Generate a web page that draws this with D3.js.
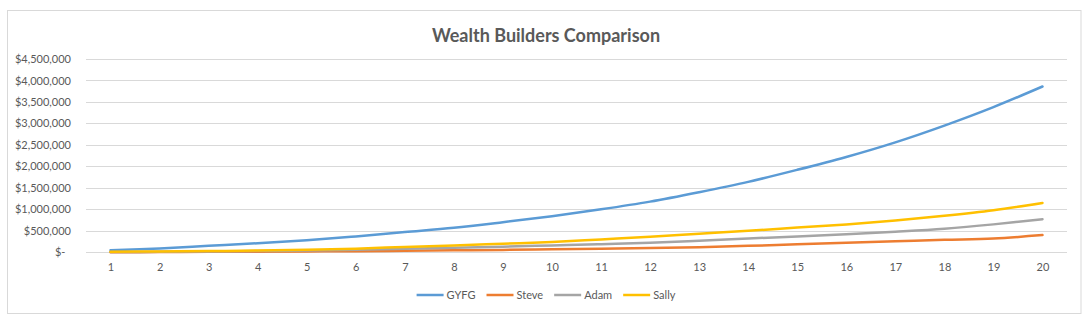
<!DOCTYPE html>
<html>
<head>
<meta charset="utf-8">
<script src="https://cdn.jsdelivr.net/npm/d3@7"></script>
<style>
  body { margin: 0; background: #fff; }
  svg { display: block; font-family: Lato, "Open Sans", sans-serif; }
</style>
</head>
<body>
<svg></svg>
<script>
// Dados do gráfico
const years = d3.range(1, 21);
const seriesNames = ["GYFG", "Steve", "Adam", "Sally"];
const seriesColors = ["#5B9BD5", "#ED7D31", "#A5A5A5", "#FFC000"];

const gyfg = [50000, 90000, 150000, 210000, 280000, 370000, 470000, 570000, 700000, 840000,
              1000000, 1180000, 1400000, 1640000, 1920000, 2220000, 2560000, 2950000, 3380000, 3860000];
const steve = [0, 5000, 10000, 15000, 20000, 25000, 35000, 45000, 55000, 70000,
               85000, 100000, 120000, 150000, 185000, 220000, 255000, 290000, 320000, 400000];
const adam = [5000, 10000, 20000, 30000, 40000, 60000, 85000, 105000, 130000, 160000,
              190000, 225000, 270000, 320000, 370000, 420000, 480000, 550000, 650000, 770000];
const sally = [10000, 20000, 30000, 40000, 60000, 85000, 125000, 160000, 200000, 240000,
               300000, 360000, 430000, 500000, 575000, 650000, 740000, 850000, 980000, 1150000];

const yTicks = d3.range(0, 4500001, 500000);

const width = 1092, height = 324;
const svg = d3.select("svg").attr("width", width).attr("height", height);

// Moldura do gráfico
svg.append("rect")
  .attr("x", 7.5).attr("y", 10.5)
  .attr("width", 1073.5).attr("height", 303)
  .attr("fill", "#fff")
  .attr("stroke", "#D9D9D9");

// Título
svg.append("text")
  .attr("x", 546).attr("y", 42)
  .attr("text-anchor", "middle")
  .attr("font-size", "18px")
  .attr("font-weight", "bold")
  .attr("fill", "#595959")
  .text("Wealth Builders Comparison");

// Escalas
const x = d3.scalePoint().domain(years).range([86, 1067]).padding(0.5);
const y = d3.scaleLinear().domain([0, 4500000]).range([252.3, 59]);

// Linhas de grade
svg.append("g")
  .selectAll("line")
  .data(yTicks)
  .join("line")
  .attr("x1", 86).attr("x2", 1067)
  .attr("y1", d => Math.round(y(d)) + 0.5)
  .attr("y2", d => Math.round(y(d)) + 0.5)
  .attr("stroke", "#D9D9D9");

// Eixo Y
const money = d3.format("$,");
const yAxis = svg.append("g")
  .attr("transform", "translate(74,0)")
  .call(d3.axisLeft(y).tickValues(yTicks).tickSize(0)
    .tickFormat(d => d === 0 ? "$-\u00A0\u00A0" : money(d)));
yAxis.select(".domain").remove();
yAxis.selectAll("text").attr("font-size", "11px").attr("fill", "#595959").attr("font-family", "Lato, sans-serif");

// Eixo X
const xAxis = svg.append("g")
  .attr("transform", "translate(0,260)")
  .call(d3.axisBottom(x).tickSize(0));
xAxis.select(".domain").remove();
xAxis.selectAll("text").attr("font-size", "11px").attr("fill", "#595959").attr("font-family", "Lato, sans-serif");

// Séries
const seriesData = [gyfg, steve, adam, sally];
const line = d3.line()
  .x((d, i) => x(years[i]))
  .y(d => y(d))
  .curve(d3.curveCatmullRom.alpha(0.5));

svg.append("g")
  .selectAll("path")
  .data(seriesData)
  .join("path")
  .attr("d", d => line(d))
  .attr("fill", "none")
  .attr("stroke", (d, i) => seriesColors[i])
  .attr("stroke-width", 2.5)
  .attr("stroke-linecap", "round")
  .attr("stroke-linejoin", "round");

// Legenda
const legend = svg.append("g").attr("transform", "translate(0,295)");
const items = legend.selectAll("g")
  .data(seriesNames)
  .join("g");
items.append("line")
  .attr("x1", 0).attr("x2", 27)
  .attr("stroke", (d, i) => seriesColors[i])
  .attr("stroke-width", 2.5);
items.append("text")
  .attr("x", 30).attr("dy", "0.35em")
  .attr("font-size", "11px")
  .attr("fill", "#595959")
  .text(d => d);

// Posicionar itens da legenda centralizados
const widths = [];
items.each(function () {
  widths.push(30 + this.querySelector("text").getComputedTextLength());
});
const gap = 11;
const total = d3.sum(widths) + gap * (widths.length - 1);
let cx = 546 - total / 2;
items.attr("transform", (d, i) => {
  const t = `translate(${cx},0)`;
  cx += widths[i] + gap;
  return t;
});
</script>
</body>
</html>
